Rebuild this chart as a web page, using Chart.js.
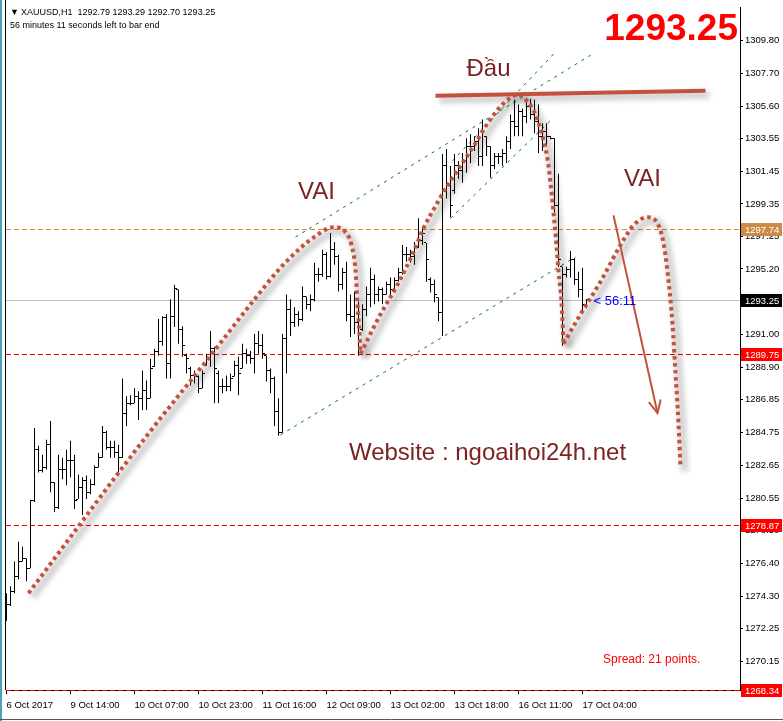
<!DOCTYPE html>
<html><head><meta charset="utf-8">
<script src="https://cdn.jsdelivr.net/npm/chart.js@4.4.0/dist/chart.umd.min.js"></script>
<style>html,body{margin:0;padding:0;background:#fff;overflow:hidden}</style>
</head><body>
<canvas id="c" width="783" height="721"></canvas>
<script>
// ---------- DATA ----------
const barOpen=[1273.24,1273.81,1274.63,1275.58,1276.53,1276.72,1276.09,1280.45,1283.66,1282.34,1282.52,1283.97,1281.58,1280.00,1282.40,1282.40,1282.97,1282.97,1280.51,1281.26,1281.71,1280.95,1281.45,1282.52,1283.15,1284.74,1283.78,1283.78,1283.47,1283.15,1286.00,1286.63,1286.63,1287.07,1286.95,1287.45,1286.95,1288.96,1289.91,1290.54,1292.12,1289.15,1292.18,1293.89,1291.36,1289.66,1288.84,1288.40,1288.33,1287.58,1289.03,1289.47,1290.10,1288.52,1287.70,1287.70,1287.70,1288.33,1289.03,1288.84,1289.79,1289.66,1289.47,1290.42,1290.29,1289.66,1288.71,1288.21,1286.13,1284.74,1290.73,1292.63,1291.81,1292.31,1291.99,1293.45,1292.94,1293.26,1294.84,1294.84,1296.10,1294.71,1296.42,1295.97,1294.20,1294.96,1292.31,1292.18,1291.81,1291.36,1292.63,1293.57,1294.52,1293.57,1293.89,1293.57,1294.20,1293.89,1294.46,1294.96,1296.10,1296.10,1295.97,1296.60,1297.04,1296.86,1294.52,1294.20,1293.38,1292.44,1301.78,1300.52,1300.20,1301.78,1301.46,1302.10,1303.04,1303.04,1303.36,1302.41,1303.67,1303.04,1301.78,1302.41,1302.41,1302.54,1303.36,1304.62,1304.30,1305.25,1304.94,1305.57,1305.06,1304.62,1303.67,1303.99,1303.67,1303.55,1299.25,1295.34,1294.84,1295.15,1295.78,1294.52,1293.89,1292.79];
const barHigh=[1274.50,1274.94,1276.53,1277.79,1277.47,1276.72,1280.45,1285.05,1283.91,1283.34,1284.30,1285.50,1281.58,1283.34,1283.15,1283.66,1284.23,1283.34,1282.08,1281.90,1282.02,1281.77,1282.65,1283.47,1285.18,1284.87,1284.23,1284.23,1283.97,1288.21,1287.07,1287.13,1287.58,1287.39,1288.71,1288.08,1289.47,1290.10,1292.00,1292.18,1292.31,1293.26,1294.20,1293.89,1291.55,1289.79,1288.96,1288.71,1288.40,1288.71,1289.79,1291.24,1290.23,1288.71,1288.21,1288.40,1288.52,1289.34,1289.60,1290.42,1290.10,1289.97,1291.05,1291.24,1291.05,1289.66,1288.84,1288.33,1286.95,1291.05,1293.57,1293.26,1292.75,1292.50,1294.08,1293.45,1293.57,1295.60,1295.28,1296.42,1296.29,1297.49,1296.92,1296.10,1295.28,1295.66,1293.57,1293.76,1293.13,1292.94,1294.08,1295.28,1294.84,1294.08,1294.01,1294.39,1294.65,1294.65,1295.28,1296.73,1296.60,1296.42,1296.92,1298.43,1297.80,1296.86,1294.65,1294.52,1293.38,1302.54,1302.86,1301.78,1302.54,1302.10,1302.60,1303.55,1303.80,1303.67,1304.18,1304.75,1303.67,1303.04,1302.60,1302.60,1302.86,1303.67,1305.06,1306.01,1305.70,1305.44,1305.88,1306.07,1306.01,1305.70,1304.50,1304.50,1303.67,1303.55,1301.28,1295.34,1295.34,1296.35,1295.91,1295.03,1295.28,1293.29];
const barLow=[1272.74,1273.68,1274.50,1275.39,1276.53,1275.26,1276.09,1280.32,1282.21,1282.21,1282.40,1280.95,1279.68,1279.88,1281.77,1281.39,1281.90,1279.88,1280.51,1279.49,1280.51,1280.82,1281.39,1282.52,1283.15,1283.66,1283.15,1283.15,1282.21,1283.15,1285.18,1286.50,1286.63,1285.56,1286.19,1286.19,1286.95,1288.96,1289.66,1290.29,1288.21,1288.21,1291.49,1290.42,1289.60,1288.52,1287.76,1287.89,1287.26,1287.58,1289.03,1288.96,1286.63,1286.63,1287.26,1287.39,1287.39,1288.33,1287.13,1288.84,1289.15,1289.15,1288.52,1289.79,1289.47,1288.02,1287.26,1285.18,1284.55,1284.74,1288.52,1290.92,1291.49,1291.55,1291.87,1292.63,1292.50,1293.13,1294.39,1294.71,1294.52,1294.65,1295.47,1293.76,1293.89,1291.87,1290.86,1291.05,1289.66,1291.24,1292.18,1292.75,1292.94,1293.13,1292.94,1293.57,1293.38,1293.76,1294.39,1294.84,1295.66,1295.60,1295.47,1296.54,1296.73,1294.39,1293.70,1293.07,1291.87,1290.92,1299.70,1298.50,1300.01,1300.96,1300.71,1301.34,1301.97,1302.73,1301.78,1301.78,1302.41,1301.02,1301.59,1301.90,1301.78,1301.97,1302.86,1303.67,1303.67,1303.67,1304.50,1304.75,1303.86,1302.60,1302.73,1303.04,1303.48,1298.81,1295.34,1290.29,1294.65,1294.65,1294.20,1293.38,1292.31,1292.70];
const barClose=[1273.81,1274.63,1275.58,1276.53,1276.72,1276.09,1280.45,1283.66,1282.34,1282.52,1283.97,1281.58,1280.00,1282.40,1282.40,1282.97,1282.97,1280.45,1281.26,1281.71,1280.95,1281.45,1282.52,1283.15,1284.74,1283.78,1283.78,1283.47,1283.15,1286.00,1286.63,1286.63,1287.07,1286.95,1287.45,1286.95,1288.84,1289.91,1290.54,1292.12,1289.15,1292.18,1293.95,1291.36,1290.29,1289.47,1288.40,1288.33,1287.58,1288.52,1289.47,1290.10,1288.84,1287.70,1287.70,1287.70,1288.21,1289.03,1288.52,1289.79,1289.66,1289.47,1290.42,1290.29,1289.79,1288.71,1288.21,1286.13,1284.74,1290.73,1292.63,1291.81,1292.31,1291.99,1293.45,1292.94,1293.26,1294.84,1294.84,1296.10,1294.71,1296.42,1295.97,1294.20,1294.96,1292.31,1292.18,1291.81,1291.05,1292.63,1293.57,1294.52,1293.57,1293.89,1293.57,1294.20,1293.89,1294.46,1294.96,1296.10,1296.10,1295.97,1296.60,1297.04,1297.49,1295.78,1294.20,1293.57,1292.44,1301.78,1300.52,1299.25,1301.78,1301.46,1302.10,1303.04,1303.04,1303.36,1302.41,1303.99,1303.04,1301.78,1302.41,1302.41,1302.54,1303.36,1304.62,1304.30,1305.25,1304.94,1305.57,1305.06,1304.62,1303.67,1303.99,1303.67,1303.55,1299.25,1295.78,1294.84,1295.15,1295.78,1294.52,1293.89,1292.94,1293.25];

const timeLabels=['6 Oct 2017','9 Oct 14:00','10 Oct 07:00','10 Oct 23:00','11 Oct 16:00','12 Oct 09:00','13 Oct 02:00','13 Oct 18:00','16 Oct 11:00','17 Oct 04:00'];
const timeLabelBars=[0,16,32,48,64,80,96,112,128,144];
const priceTicks=[1309.80,1307.70,1305.60,1303.55,1301.45,1299.35,1297.25,1295.20,1293.10,1291.00,1288.90,1286.85,1284.75,1282.65,1280.55,1278.50,1276.40,1274.30,1272.25,1270.15];
const levelValues=[1297.74,1293.25,1289.75,1278.87,1268.34];

// drawn pattern (bar index, price)
const curveLeftShoulder=[[5.5,1274.50],[35.25,1284.61],[51,1289.66],[61,1292.94],[68.5,1295.28],[73.5,1296.54],[77.25,1297.30],[81.75,1297.87],[84.75,1297.55],[86.25,1296.73],[87.25,1295.15],[87.75,1292.94],[88.25,1291.05],[88.5,1289.79]];
const curveHead=[[88.5,1289.79],[93.5,1292.31],[97.75,1294.20],[101.75,1296.29],[104.25,1297.80],[107.75,1299.44],[110.25,1300.52],[113.5,1301.78],[116.75,1303.04],[120.25,1304.49],[123.5,1305.57],[126,1306.14],[128,1306.33],[130.25,1305.88],[132.25,1305.06],[133.5,1304.11],[135.25,1302.22],[136,1300.71],[136.75,1298.81],[137.5,1296.73],[138,1295.03],[138.75,1293.13],[139.25,1290.42]];
const curveRightShoulder=[[139.25,1290.42],[143.5,1292.31],[148.5,1294.39],[153.5,1296.73],[156.75,1297.99],[160.25,1298.50],[162.75,1298.12],[164.25,1296.86],[165.25,1295.03],[166.5,1291.68],[167.25,1288.52],[168,1285.37],[168.5,1282.52]];
const headLine=[[107.25,1306.26],[174.75,1306.58]];
const arrowLine=[[151.75,1298.62],[162.75,1286.00]];
const channelLines=[
  [[72.25,1297.24],[146,1308.85]],
  [[111.5,1302.10],[136.75,1308.92]],
  [[111,1298.43],[136.5,1304.81]],
  [[68.5,1284.61],[142.25,1295.97]]
];
const textNotes=[
  {t:'Đầu',x:120.5,y:1307.95},
  {t:'VAI',x:77.5,y:1300.10},
  {t:'VAI',x:159,y:1300.90},
  {t:'Website : ngoaihoi24h.net',x:120.25,y:1283.45}
];
const symbolName='XAUUSD,H1';
const headerText='56 minutes 11 seconds left to bar end';
const spreadText='Spread: 21 points.';
const timerText='< 56:11';

// ---------- STYLES ----------
const FONT='"Liberation Sans", Arial, sans-serif';
const RED='#C4513E';
const levelStyles=[
  {line:'#E0892A',box:'#CD8A48',dash:[5,3]},
  {line:'#C0C0C0',box:'#000000',dash:[]},
  {line:'#FF0000',box:'#FF0000',dash:[5,3]},
  {line:'#FF0000',box:'#FF0000',dash:[5,3]},
  {line:'#FF0000',box:'#FF0000',dash:[5,3]}
];
function tickImg(left){const c=document.createElement('canvas');c.width=5;c.height=1;const g=c.getContext('2d');g.fillStyle='#000';g.fillRect(left?0:3,0,2,1);return c;}
const pts=a=>a.map(p=>({x:p[0],y:p[1]}));

const datasets=[];
channelLines.forEach(l=>datasets.push({type:'line',data:pts(l),borderColor:'#008000',borderWidth:1,borderDash:[3,5],pointRadius:0,fill:false,order:8}));
datasets.push({type:'bar',data:barHigh.map((h,i)=>({x:i,y:[barLow[i],h]})),backgroundColor:'#000',barThickness:1,borderWidth:0,inflateAmount:0,order:7});
datasets.push({type:'line',data:barOpen.map((v,i)=>({x:i,y:v})),showLine:false,pointStyle:tickImg(true),pointRadius:2,order:6});
datasets.push({type:'line',data:barClose.map((v,i)=>({x:i,y:v})),showLine:false,pointStyle:tickImg(false),pointRadius:2,order:6});
[curveLeftShoulder,curveHead,curveRightShoulder,headLine].forEach(c=>datasets.push({type:'line',isShadow:true,data:pts(c),borderColor:'rgba(0,0,0,0.17)',borderWidth:8,pointRadius:0,fill:false,cubicInterpolationMode:'monotone',order:4}));
[curveLeftShoulder,curveHead,curveRightShoulder].forEach(c=>datasets.push({type:'line',data:pts(c),borderColor:RED,borderWidth:4,borderDash:[3.5,3.5],borderCapStyle:'butt',pointRadius:0,fill:false,cubicInterpolationMode:'monotone',order:2}));
datasets.push({type:'line',data:pts(headLine),borderColor:RED,borderWidth:4,pointRadius:0,fill:false,order:2});
datasets.push({type:'line',isArrow:true,data:pts(arrowLine),borderColor:RED,borderWidth:2,pointRadius:0,fill:false,order:1});

const deco={
  id:'deco',
  beforeDatasetsDraw(chart){
    const ctx=chart.ctx,a=chart.chartArea,y=chart.scales.y;
    ctx.save();
    levelValues.forEach((v,k)=>{
      const py=Math.round(y.getPixelForValue(v))+0.5;
      ctx.strokeStyle=levelStyles[k].line;ctx.lineWidth=1;ctx.setLineDash(levelStyles[k].dash);
      ctx.beginPath();ctx.moveTo(a.left,py);ctx.lineTo(a.right,py);ctx.stroke();
    });
    ctx.restore();
  },
  beforeDatasetDraw(chart,args){
    const ds=chart.data.datasets[args.index];
    if(ds.isShadow){const ctx=chart.ctx;ctx.save();ctx.translate(4,4);ctx.filter='blur(2.5px)';}
  },
  afterDatasetDraw(chart,args){
    const ds=chart.data.datasets[args.index];
    if(ds.isShadow){chart.ctx.restore();}
    if(ds.isArrow){
      const m=chart.getDatasetMeta(args.index),p0=m.data[0],p1=m.data[1],ctx=chart.ctx;
      const ang=Math.atan2(p1.y-p0.y,p1.x-p0.x),L=14;
      ctx.save();ctx.strokeStyle=RED;ctx.lineWidth=2;ctx.beginPath();
      ctx.moveTo(p1.x-L*Math.cos(ang-0.45),p1.y-L*Math.sin(ang-0.45));
      ctx.lineTo(p1.x,p1.y);
      ctx.lineTo(p1.x-L*Math.cos(ang+0.45),p1.y-L*Math.sin(ang+0.45));
      ctx.stroke();ctx.restore();
    }
  },
  afterDraw(chart){
    const ctx=chart.ctx,a=chart.chartArea,x=chart.scales.x,y=chart.scales.y;
    ctx.save();
    // frame
    ctx.fillStyle='#45A6B6';ctx.fillRect(0,0,2,721);
    ctx.strokeStyle='#000';ctx.lineWidth=1;ctx.setLineDash([]);
    ctx.beginPath();ctx.moveTo(a.left-0.5,0);ctx.lineTo(a.left-0.5,a.bottom);ctx.stroke();
    ctx.strokeStyle='#555';ctx.beginPath();ctx.moveTo(0,719.5);ctx.lineTo(783,719.5);ctx.stroke();
    // price boxes
    ctx.font='9.5px '+FONT;ctx.textBaseline='middle';ctx.textAlign='left';
    levelValues.forEach((v,k)=>{
      const py=Math.round(y.getPixelForValue(v))+0.5;
      ctx.fillStyle=levelStyles[k].box;ctx.fillRect(a.right+1,py-6.5,41,13);
      ctx.fillStyle='#fff';ctx.fillText(v.toFixed(2),a.right+5,py+0.5);
    });
    // notes
    ctx.fillStyle='#7D2222';ctx.font='24px '+FONT;ctx.textAlign='center';ctx.textBaseline='middle';
    textNotes.forEach(n=>ctx.fillText(n.t,x.getPixelForValue(n.x),y.getPixelForValue(n.y)));
    // timer
    ctx.fillStyle='#0000FF';ctx.font='13px '+FONT;ctx.textAlign='left';
    ctx.fillText(timerText,x.getPixelForValue(146.75),y.getPixelForValue(1293.1));
    // header
    ctx.fillStyle='#000';ctx.font='9px '+FONT;ctx.textBaseline='alphabetic';
    ctx.fillText('▼',10,15);
    const last=barClose.length-1;
    ctx.fillText(symbolName+'  '+[barOpen[last],barHigh[last],barLow[last],barClose[last]].map(v=>v.toFixed(2)).join(' '),21,15);
    ctx.fillText(headerText,10,28);
    // big price
    ctx.fillStyle='#FF0000';ctx.font='bold 37px '+FONT;ctx.textAlign='right';
    ctx.fillText(barClose[last].toFixed(2),738,40);
    // spread
    ctx.font='12px '+FONT;ctx.textAlign='left';
    ctx.fillText(spreadText,603,663);
    ctx.restore();
  }
};

new Chart(document.getElementById('c'),{
  type:'bar',
  data:{datasets},
  plugins:[deco],
  options:{
    responsive:false,animation:false,devicePixelRatio:1,
    layout:{padding:{left:6,top:0,right:0,bottom:0}},
    plugins:{legend:{display:false},tooltip:{enabled:false}},
    scales:{
      x:{type:'linear',min:-0.125,max:183.375,offset:false,
        grid:{display:true,drawOnChartArea:false,drawTicks:true,tickLength:4,color:'#000',offset:false},
        border:{display:true,color:'#000'},
        afterBuildTicks:s=>{s.ticks=timeLabelBars.map(v=>({value:v}));},
        afterFit:s=>{s.height=31;},
        ticks:{autoSkip:false,maxRotation:0,minRotation:0,align:'start',padding:6,color:'#000',font:{family:FONT,size:9.5},
          callback:(v,i)=>timeLabels[i]}
      },
      y:{type:'linear',position:'right',min:1268.32,max:1311.88,
        grid:{display:true,drawOnChartArea:false,drawTicks:true,tickLength:3,color:'#000'},
        border:{display:true,color:'#000'},
        afterBuildTicks:s=>{s.ticks=priceTicks.map(v=>({value:v}));},
        afterFit:s=>{s.width=43;},
        ticks:{padding:2,color:'#000',font:{family:FONT,size:9.5},callback:v=>Number(v).toFixed(2)}
      }
    }
  }
});
</script>
</body></html>
